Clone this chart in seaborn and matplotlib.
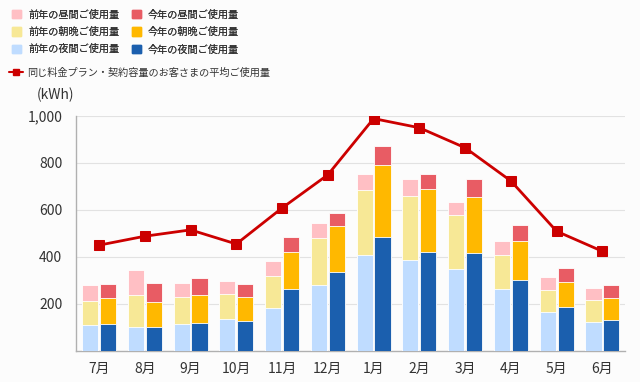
import numpy as np
import pandas as pd
import matplotlib
matplotlib.use("Agg")
import matplotlib.pyplot as plt
from matplotlib.patches import Patch
from matplotlib.lines import Line2D
from matplotlib.ticker import FuncFormatter
import seaborn as sns

sns.set_style("white")
plt.rcParams['font.family'] = ['Noto Sans CJK JP', 'DejaVu Sans']

# Data (kWh)
months = ["7月", "8月", "9月", "10月", "11月", "12月", "1月", "2月", "3月", "4月", "5月", "6月"]
prev_night = [110, 101, 116, 136, 183, 282, 410, 388, 349, 265, 165, 123]
prev_morning = [104, 136, 112, 108, 137, 199, 274, 272, 228, 143, 96, 94]
prev_day = [67, 106, 61, 54, 64, 65, 70, 70, 57, 61, 54, 52]
curr_night = [114, 101, 119, 129, 264, 337, 486, 423, 417, 302, 187, 131]
curr_morning = [110, 109, 119, 101, 157, 193, 305, 266, 238, 167, 108, 95]
curr_day = [60, 79, 71, 54, 65, 57, 80, 63, 75, 67, 57, 54]
avg_usage = [450, 488, 515, 455, 608, 749, 988, 949, 864, 723, 509, 424]

years = ["前年", "今年"]
c_day = ["#ffbfc4", "#e85c64"]
c_morning = ["#f7e896", "#ffb800"]
c_night = ["#bfdcff", "#1b5fae"]
c_line = "#cc0000"

rows = []
for i, m in enumerate(months):
    for y, n, mo, d in [("前年", prev_night[i], prev_morning[i], prev_day[i]),
                        ("今年", curr_night[i], curr_morning[i], curr_day[i])]:
        rows.append({"month": m, "year": y, "night": n,
                     "morning": n + mo, "total": n + mo + d})
df = pd.DataFrame(rows)

fig = plt.figure(figsize=(6.4, 3.82), dpi=100)
fig.patch.set_facecolor("#fcfcfc")
ax = fig.add_axes([0.119, 0.081, 0.858, 0.616])
ax.set_facecolor("#fcfcfc")

# stacked bars drawn as cumulative layers, tallest first
for col, pal in [("total", c_day), ("morning", c_morning), ("night", c_night)]:
    sns.barplot(data=df, x="month", y=col, hue="year", hue_order=years,
                order=months, palette=pal, saturation=1, width=0.78, gap=0.1,
                edgecolor="white", linewidth=0.6, legend=False, ax=ax,
                errorbar=None, zorder=3)

sns.lineplot(x=np.arange(len(months)), y=avg_usage, color=c_line, lw=2,
             marker="s", markersize=6.5, markeredgecolor=c_line, ax=ax, zorder=5)

ax.set_xlim(-0.5, 11.5)
ax.set_ylim(0, 1000)
ax.set_yticks([200, 400, 600, 800, 1000])
ax.yaxis.set_major_formatter(FuncFormatter(lambda v, p: f"{int(v):,}"))
ax.grid(axis="y", color="#e2e2e2", lw=0.8, zorder=0)
ax.set_axisbelow(True)
ax.set_xlabel("")
ax.set_ylabel("")
for s in ["top", "right"]:
    ax.spines[s].set_visible(False)
for s in ["left", "bottom"]:
    ax.spines[s].set_color("#b0b0b0")
    ax.spines[s].set_linewidth(1)
ax.tick_params(axis="both", length=0, labelsize=10, colors="#333333", pad=8)
ax.tick_params(axis="y", pad=10)

fig.text(0.058, 0.752, "(kWh)", fontsize=10, color="#333333", va="center")

# legend
h = [Patch(color=c_day[0]), Patch(color=c_morning[0]), Patch(color=c_night[0]),
     Patch(color=c_day[1]), Patch(color=c_morning[1]), Patch(color=c_night[1])]
lab = ["前年の昼間ご使用量", "前年の朝晩ご使用量", "前年の夜間ご使用量",
       "今年の昼間ご使用量", "今年の朝晩ご使用量", "今年の夜間ご使用量"]
leg = fig.legend(h, lab, ncol=2, loc="upper left", bbox_to_anchor=(0.005, 1.0),
                 frameon=False, fontsize=7.3, handlelength=0.9, handleheight=0.9,
                 handletextpad=0.7, columnspacing=1.2, labelspacing=0.72,
                 labelcolor="#333333")
fig.add_artist(leg)
fig.legend([Line2D([0], [0], color=c_line, lw=1.5, marker="s", markersize=4)],
           ["同じ料金プラン・契約容量のお客さまの平均ご使用量"],
           loc="upper left", bbox_to_anchor=(0.0, 0.848), frameon=False,
           fontsize=7.3, handlelength=1.4, handletextpad=0.4, labelcolor="#333333")

fig.savefig("out.png", dpi=100, facecolor=fig.get_facecolor())
